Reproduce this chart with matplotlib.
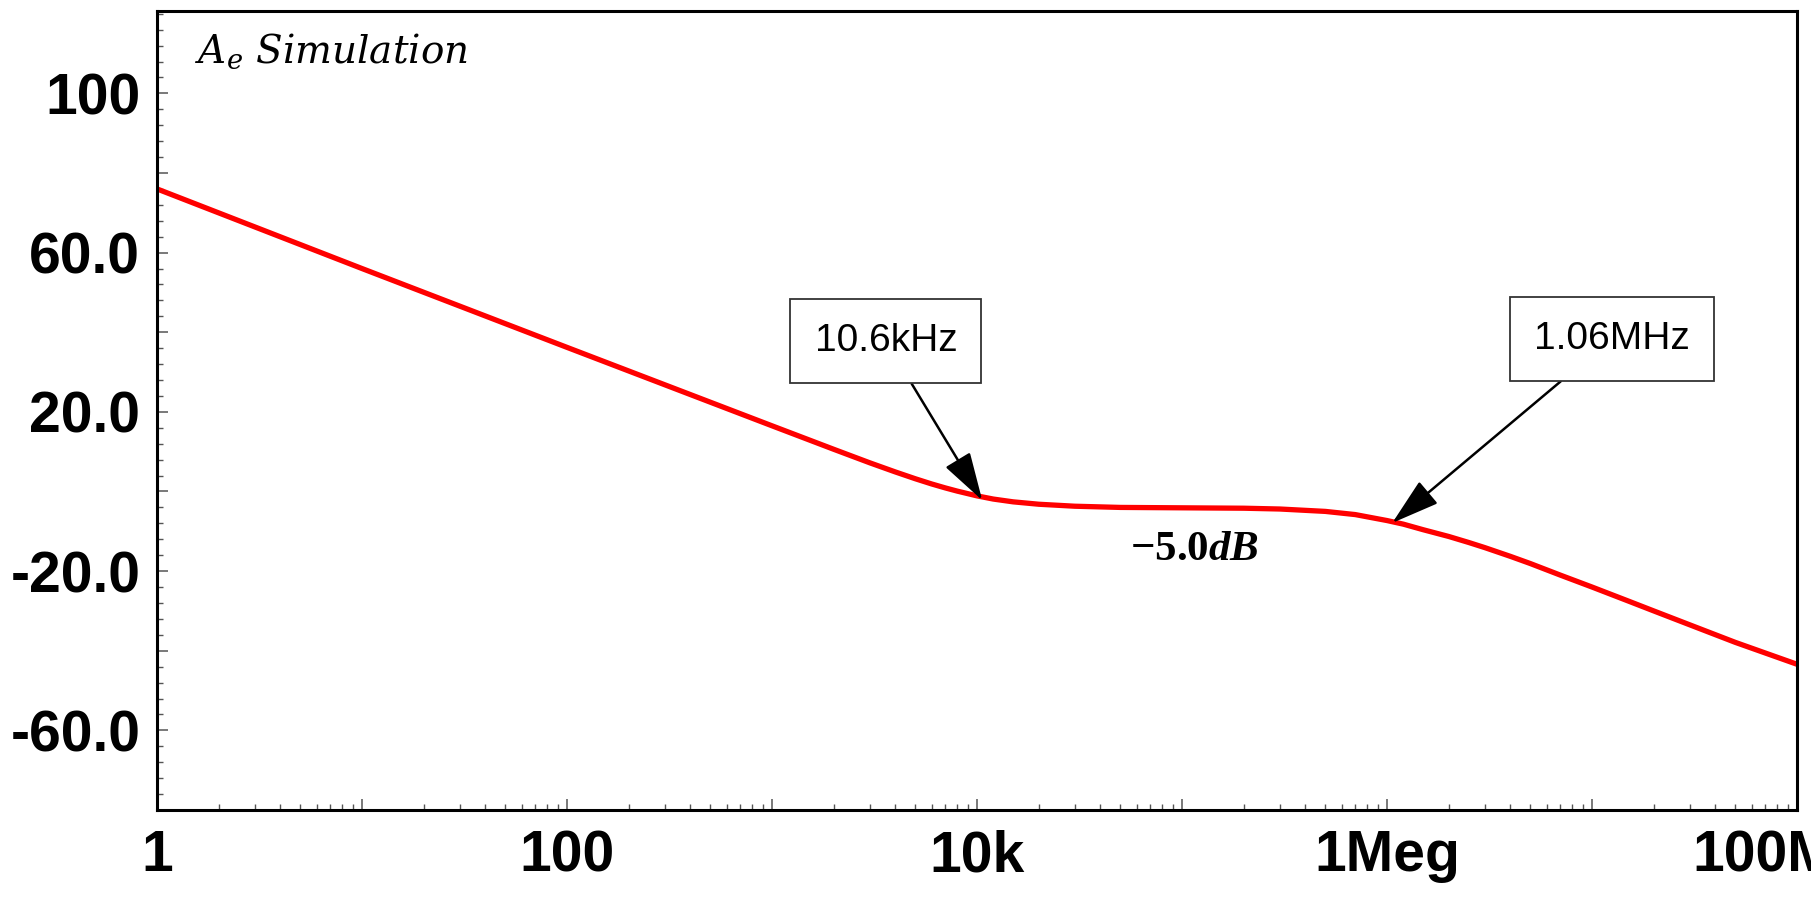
import matplotlib
matplotlib.use("Agg")
import matplotlib.pyplot as plt
from matplotlib.font_manager import FontProperties
from matplotlib.ticker import FixedLocator, FixedFormatter, LogLocator, MultipleLocator, NullFormatter

# Error amplifier gain A_e vs frequency (simulation)
freq_hz = [1, 10, 100, 1e3, 2e3, 3e3, 4e3, 5e3, 6e3, 7e3, 8e3, 1e4, 1.2e4, 1.5e4, 2e4, 3e4,
           5e4, 1e5, 2e5, 3e5, 5e5, 7e5, 1e6, 1.2e6, 1.5e6, 2e6, 2.5e6, 3e6, 4e6, 5e6,
           7e6, 1e7, 1.5e7, 2e7, 3e7, 5e7, 1e8]
gain_db = [76.0, 56.0, 36.2, 16.5, 10.6, 7.2, 4.9, 3.2, 1.9, 0.9, 0.1, -1.1, -1.9, -2.6, -3.2, -3.7,
           -4.0, -4.1, -4.2, -4.4, -5.0, -5.8, -7.3, -8.2, -9.6, -11.3, -12.8, -14.1, -16.3, -18.1,
           -21.0, -24.0, -27.5, -30.0, -33.5, -37.9, -43.4]

# corner markers: label, arrow tip (Hz, dB), box centre (Hz, dB)
corner_labels = ["10.6kHz", "1.06MHz"]
corner_freq = [10.6e3, 1.06e6]
corner_db = [-2.2, -7.9]
box_freq = [3.59e3, 1.245e7]
box_db = [37.8, 38.4]

plateau_text = r"$\mathbf{-5.0}\mathbfit{dB}$"

xtick_pos = [1, 1e1, 1e2, 1e3, 1e4, 1e5, 1e6, 1e7, 1e8]
xtick_labels = ["1", "", "100", "", "10k", "", "1Meg", "", "100Meg"]
ytick_pos = [100, 80, 60, 40, 20, 0, -20, -40, -60]
ytick_labels = ["100", "", "60.0", "", "20.0", "", "-20.0", "", "-60.0"]

plt.rcParams["mathtext.fontset"] = "custom"
plt.rcParams["mathtext.rm"] = "DejaVu Serif"
plt.rcParams["mathtext.it"] = "DejaVu Serif:italic"
plt.rcParams["mathtext.bf"] = "Liberation Serif:bold"
plt.rcParams["mathtext.bfit"] = "Liberation Serif:bold:italic"

fig = plt.figure(figsize=(18.11, 9.14), dpi=100)
ax = fig.add_axes([0.0867, 0.1138, 0.9056, 0.8742])

ax.plot(freq_hz, gain_db, color="#ff0000", lw=3.8, solid_joinstyle="round")

ax.set_xscale("log")
ax.set_xlim(1, 1e8)
ax.set_ylim(-80, 120.7)

ax.xaxis.set_major_locator(FixedLocator(xtick_pos))
ax.xaxis.set_major_formatter(FixedFormatter(xtick_labels))
ax.xaxis.set_minor_locator(LogLocator(base=10, subs=range(2, 10), numticks=50))
ax.xaxis.set_minor_formatter(NullFormatter())
ax.yaxis.set_major_locator(FixedLocator(ytick_pos))
ax.yaxis.set_major_formatter(FixedFormatter(ytick_labels))
ax.yaxis.set_minor_locator(MultipleLocator(4))

tick_font = FontProperties(family="Liberation Sans", weight="bold", size=41)
for lab in ax.get_xticklabels() + ax.get_yticklabels():
    lab.set_fontproperties(tick_font)

ax.tick_params(which="major", direction="in", length=8, width=1.1, color="#555555")
ax.tick_params(which="minor", direction="in", length=4.3, width=1.0, color="#555555")
ax.tick_params(axis="y", pad=12)
ax.tick_params(axis="x", pad=14)

for sp in ax.spines.values():
    sp.set_linewidth(2.2)
    sp.set_color("black")

ax.text(0.0232, 0.935, r"$A_e$ Simulation", transform=ax.transAxes, ha="left", va="baseline",
        fontsize=28, family="DejaVu Serif", style="italic")

for lab, fx, fy, bx, by in zip(corner_labels, corner_freq, corner_db, box_freq, box_db):
    ax.annotate(lab, xy=(fx, fy), xytext=(bx, by), textcoords="data",
                ha="center", va="center", fontsize=28, family="Liberation Sans",
                bbox=dict(boxstyle="square,pad=0.62", fc="white", ec="#333333", lw=1.3),
                arrowprops=dict(arrowstyle="-|>,head_length=1.5,head_width=0.45", mutation_scale=20,
                                color="black", lw=1.8, shrinkA=0, shrinkB=0))

ax.text(1.15e5, -17.3, plateau_text, ha="center", va="baseline", fontsize=31)

# axis title sits mostly below the figure edge
fig.text(0.54, 0.0, "frequency [Hz]", ha="center", va="top", fontsize=36,
         family="DejaVu Serif", style="italic")

fig.savefig("out.png", dpi=100)
